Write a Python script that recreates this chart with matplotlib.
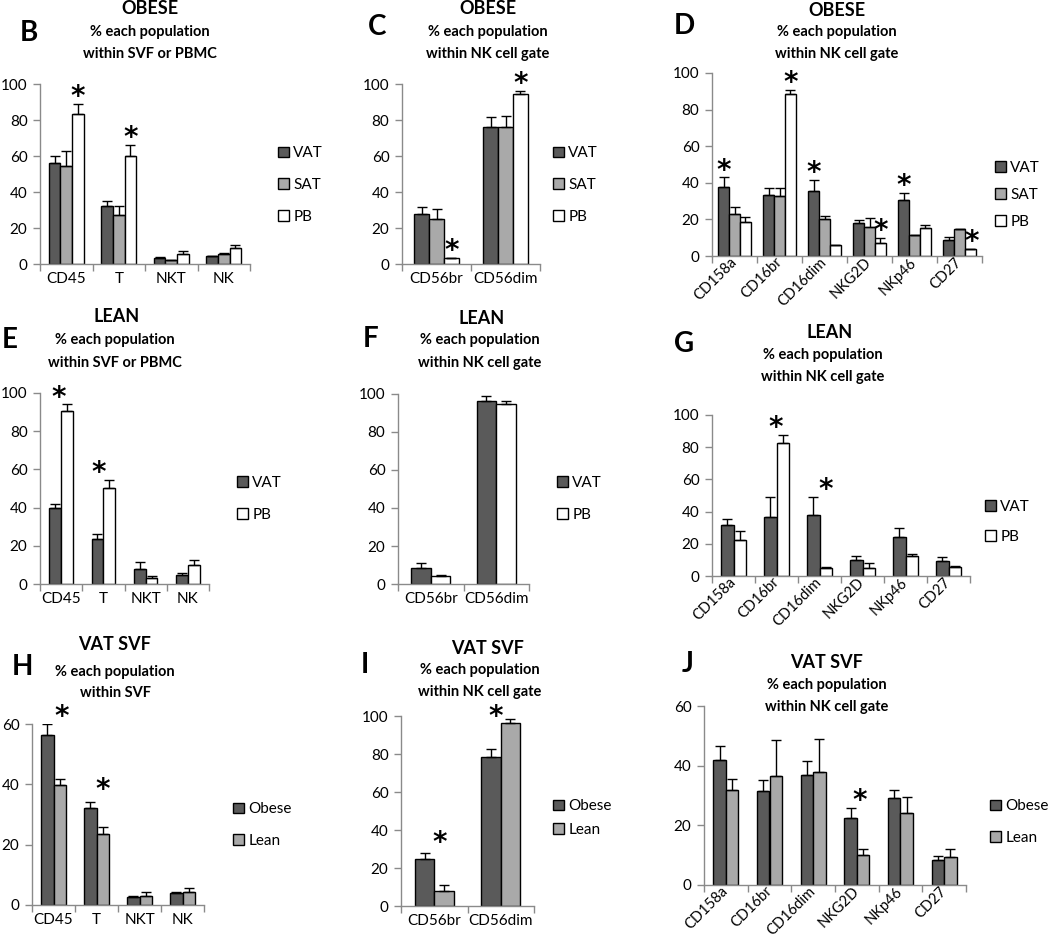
import numpy as np
import matplotlib
matplotlib.use("Agg")
import matplotlib.pyplot as plt

plt.rcParams['font.family'] = ['Lato', 'DejaVu Sans']

# ---------------- DATA ----------------
cats_svf = ["CD45", "T", "NKT", "NK"]
cats_56 = ["CD56br", "CD56dim"]
cats_rec = ["CD158a", "CD16br", "CD16dim", "NKG2D", "NKp46", "CD27"]

# B  OBESE, within SVF or PBMC
B_vat = [56, 32, 3.5, 4.2];      B_vat_err = [4.2, 2.8, 0.6, 0.5]
B_sat = [54.3, 27.2, 2.0, 5.4];  B_sat_err = [8.7, 5.0, 0.3, 0.7]
B_pb = [83.5, 60.2, 5.4, 8.7];   B_pb_err = [5.6, 5.8, 1.6, 1.7]

# C  OBESE, within NK gate
C_vat = [27.8, 76.1]; C_vat_err = [3.9, 5.6]
C_sat = [24.8, 76.3]; C_sat_err = [5.7, 5.7]
C_pb = [3.1, 94.6];   C_pb_err = [0.3, 1.6]

# D  OBESE receptors
D_vat = [37.5, 33.3, 35.6, 18.2, 30.5, 8.5]; D_vat_err = [5.4, 4.0, 5.9, 1.3, 4.0, 1.7]
D_sat = [23.1, 32.9, 20.2, 16.0, 11.5, 14.9]; D_sat_err = [3.8, 4.0, 1.4, 4.5, 0.0, 0.0]
D_pb = [18.4, 88.4, 5.8, 7.1, 15.1, 3.6];    D_pb_err = [3.1, 2.1, 0.3, 2.5, 1.6, 0.4]

# E  LEAN, within SVF or PBMC
E_vat = [39.7, 23.6, 7.7, 4.9]; E_vat_err = [2.3, 2.4, 3.7, 0.9]
E_pb = [90.4, 50.2, 3.0, 9.8];  E_pb_err = [3.6, 4.3, 1.0, 2.6]

# F  LEAN, within NK gate
F_vat = [8.2, 96.5]; F_vat_err = [2.8, 2.5]
F_pb = [4.2, 94.7];  F_pb_err = [0.8, 1.8]

# G  LEAN receptors
G_vat = [31.7, 36.4, 37.9, 9.9, 24.0, 9.1]; G_vat_err = [3.9, 12.5, 11.0, 2.3, 5.6, 2.9]
G_pb = [22.4, 82.4, 5.0, 5.2, 12.2, 5.4];   G_pb_err = [5.3, 5.4, 0.6, 2.7, 1.3, 1.0]

# H  VAT SVF, within SVF
H_ob = [56.4, 32.0, 2.65, 4.1]; H_ob_err = [3.5, 2.3, 0.35, 0.3]
H_le = [39.7, 23.5, 3.0, 4.4];  H_le_err = [2.1, 2.5, 1.4, 1.2]

# I  VAT SVF, within NK gate
I_ob = [24.6, 78.2]; I_ob_err = [3.4, 4.6]
I_le = [7.9, 96.1];  I_le_err = [3.0, 2.5]

# J  VAT SVF receptors
J_ob = [41.8, 31.5, 36.8, 22.3, 29.3, 8.5]; J_ob_err = [4.8, 3.6, 4.7, 3.5, 2.7, 1.2]
J_le = [31.8, 36.5, 38.0, 10.0, 24.1, 9.3]; J_le_err = [3.8, 12.2, 11.0, 2.0, 5.5, 2.8]

# ---------------- STYLE ----------------
W, H = 1050, 941
fig = plt.figure(figsize=(W / 100, H / 100), dpi=100)

C_DARK = "#5a5a5a"
C_LIGHT = "#a9a9a9"
C_WHITE = "#ffffff"
SPINE = "#8a8a8a"
TICK_FS = 11
LEG_FS = 11


def add_ax(l, r, t, b):
    return fig.add_axes([l / W, 1 - b / H, (r - l) / W, (b - t) / H])


def fig_text(x, y, s, **kw):
    fig.text(x / W, 1 - y / H, s, transform=fig.transFigure, **kw)


def panel(box, cats, series, ymax, width, stars, legend_pos, leg_spacing,
          rotate=False):
    ax = add_ax(*box)
    n = len(series)
    x = np.arange(len(cats)) + 0.5
    tops = []
    for i, (vals, errs, col, lab) in enumerate(series):
        off = (i - (n - 1) / 2) * width
        ax.bar(x + off, vals, width=width, color=col, edgecolor="black",
               linewidth=1.0, label=lab, zorder=2)
        ax.errorbar(x + off, vals, yerr=[np.zeros(len(vals)), errs], fmt="none",
                    ecolor="black", elinewidth=1.0, capsize=3.5, capthick=1.0,
                    zorder=3)
        tops.append(np.array(vals) + np.array(errs))
    ax.set_xlim(0, len(cats))
    ax.set_ylim(0, ymax)
    ax.set_yticks(np.arange(0, ymax + 1, 20))
    ax.set_xticks(np.arange(0, len(cats) + 1))
    ax.set_xticklabels([])
    ax.set_xticks(x, minor=True)
    if rotate:
        ax.set_xticklabels(cats, minor=True, rotation=45, ha="right",
                           va="center", rotation_mode="anchor")
        ax.tick_params(axis="x", which="minor", length=0, labelsize=10.5, pad=3)
    else:
        ax.set_xticklabels(cats, minor=True)
        ax.tick_params(axis="x", which="minor", length=0, labelsize=TICK_FS, pad=6)
    ax.tick_params(axis="x", which="major", length=5, color=SPINE, width=1,
                   direction="out")
    ax.tick_params(axis="y", length=5, color=SPINE, width=1, direction="out",
                   labelsize=TICK_FS, pad=4)
    for s in ["top", "right"]:
        ax.spines[s].set_visible(False)
    for s in ["left", "bottom"]:
        ax.spines[s].set_color(SPINE)
        ax.spines[s].set_linewidth(1.0)
    # significance stars
    for st in stars:
        g, si, dx = st[:3]
        dy = st[3] if len(st) > 3 else 5
        ax.annotate("*", xy=(x[g] + dx, tops[si][g]), xytext=(0, dy),
                    textcoords="offset points", ha="center", va="center",
                    fontsize=20, fontweight="bold", annotation_clip=False,
                    fontfamily=["DejaVu Sans"])
    lx, ly = legend_pos
    ax.legend(loc="center left", bbox_to_anchor=(lx / W, 1 - ly / H),
              bbox_transform=fig.transFigure, frameon=False, fontsize=LEG_FS,
              handlelength=0.7, handleheight=0.7, handletextpad=0.3,
              labelspacing=leg_spacing, borderpad=0, borderaxespad=0)
    return ax


def titles(letter_xy, letter, title_xy, title, sub_xy1, sub1, sub_xy2, sub2):
    fig_text(*letter_xy, letter, fontsize=20, fontweight="bold", ha="center", va="center")
    fig_text(*title_xy, title, fontsize=13, fontweight="bold", ha="center", va="center")
    fig_text(*sub_xy1, sub1, fontsize=10.5, fontweight="bold", ha="center", va="center")
    fig_text(*sub_xy2, sub2, fontsize=10.5, fontweight="bold", ha="center", va="center")


# ---- B ----
panel((40, 250, 84, 264), cats_svf,
      [(B_vat, B_vat_err, C_DARK, "VAT"), (B_sat, B_sat_err, C_LIGHT, "SAT"),
       (B_pb, B_pb_err, C_WHITE, "PB")],
      100, 0.222, [(0, 2, 0.222), (1, 2, 0.222)], (278, 185), 1.15)
titles((29, 33), "B", (150, 9), "OBESE", (150, 32), "% each population",
       (150, 54), "within SVF or PBMC")

# ---- C ----
panel((402, 540, 84, 264), cats_56,
      [(C_vat, C_vat_err, C_DARK, "VAT"), (C_sat, C_sat_err, C_LIGHT, "SAT"),
       (C_pb, C_pb_err, C_WHITE, "PB")],
      100, 0.217, [(0, 2, 0.217), (1, 2, 0.217)], (553, 185), 1.15)
titles((377, 27), "C", (488, 9), "OBESE", (488, 32), "% each population",
       (488, 54), "within NK cell gate")

# ---- D ----
panel((712, 982, 73, 256), cats_rec,
      [(D_vat, D_vat_err, C_DARK, "VAT"), (D_sat, D_sat_err, C_LIGHT, "SAT"),
       (D_pb, D_pb_err, C_WHITE, "PB")],
      100, 0.244, [(0, 0, -0.244), (1, 2, 0.244), (2, 0, -0.244), (3, 2, 0.244),
                   (4, 0, -0.244), (5, 2, 0.26)], (995, 195), 0.85, rotate=True)
titles((684, 26), "D", (837, 10), "OBESE", (837, 32), "% each population",
       (837, 54), "within NK cell gate")

# ---- E ----
panel((40, 209, 393, 584), cats_svf,
      [(E_vat, E_vat_err, C_DARK, "VAT"), (E_pb, E_pb_err, C_WHITE, "PB")],
      100, 0.28, [(0, 1, -0.06), (1, 1, -0.11)], (237, 499), 1.2)
titles((10, 340), "E", (117, 317), "LEAN", (115, 340), "% each population",
       (115, 363), "within SVF or PBMC")

# ---- F ----
panel((398, 529, 394, 584), cats_56,
      [(F_vat, F_vat_err, C_DARK, "VAT"), (F_pb, F_pb_err, C_WHITE, "PB")],
      100, 0.30, [], (557, 499), 1.2)
titles((371, 339), "F", (482, 318), "LEAN", (480, 340), "% each population",
       (480, 363), "within NK cell gate")

# ---- G ----
panel((712, 970, 415, 576), cats_rec,
      [(G_vat, G_vat_err, C_DARK, "VAT"), (G_pb, G_pb_err, C_WHITE, "PB")],
      100, 0.29, [(1, 1, -0.03), (2, 0, 0.14)], (985, 522), 1.05, rotate=True)
titles((684, 344), "G", (830, 332), "LEAN", (823, 355), "% each population",
       (823, 377), "within NK cell gate")

# ---- H ----
panel((32, 204, 724, 905), cats_svf,
      [(H_ob, H_ob_err, C_DARK, "Obese"), (H_le, H_le_err, C_LIGHT, "Lean")],
      60, 0.29, [(0, 0, 0.19), (1, 0, 0.135, 8)], (233, 825), 1.15)
titles((22, 667), "H", (115, 645), "VAT SVF", (115, 672), "% each population",
       (115, 693), "within SVF")

# ---- I ----
panel((401, 534, 716, 906), cats_56,
      [(I_ob, I_ob_err, C_DARK, "Obese"), (I_le, I_le_err, C_LIGHT, "Lean")],
      100, 0.29, [(0, 0, 0.076, 7), (1, 1, -0.076, 1)], (553, 818), 0.6)
titles((365, 665), "I", (488, 648), "VAT SVF", (480, 670), "% each population",
       (480, 692), "within NK cell gate")

# ---- J ----
panel((704, 966, 706, 885), cats_rec,
      [(J_ob, J_ob_err, C_DARK, "Obese"), (J_le, J_le_err, C_LIGHT, "Lean")],
      60, 0.29, [(3, 0, 0.07)], (990, 822), 1.15, rotate=True)
titles((688, 664), "J", (827, 662), "VAT SVF", (827, 685), "% each population",
       (827, 707), "within NK cell gate")

fig.savefig("out.png", dpi=100)
